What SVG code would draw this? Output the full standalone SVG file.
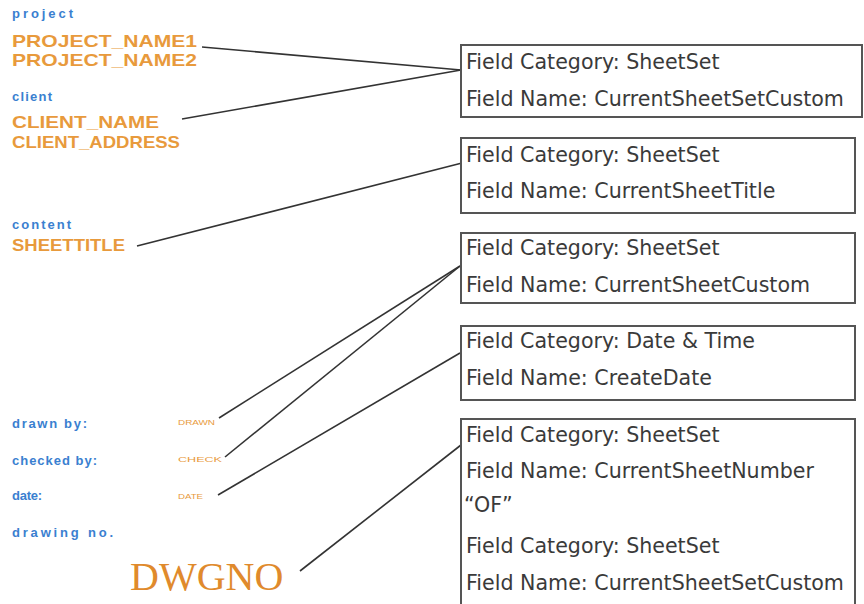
<svg xmlns="http://www.w3.org/2000/svg" width="864" height="604" viewBox="0 0 864 604">
<defs>
<style>
.bx{fill:#fff;stroke:#555;stroke-width:2}
.ft{font-family:"DejaVu Sans",Verdana,sans-serif;font-size:20.6px;fill:#3a3a3a}
.or{font-family:"Liberation Sans",Arial,sans-serif;font-weight:bold;font-size:17px;fill:#e89a3c}
.bl{font-family:"Liberation Sans",Arial,sans-serif;font-weight:bold;font-size:13px;fill:#3a80d0}
.sm{font-family:"Liberation Sans",Arial,sans-serif;font-size:8px;fill:#e89a3c}
.cn{stroke:#333;stroke-width:1.6;fill:none}
</style>
</defs>
<rect width="864" height="604" fill="#fff"/>
<g id="connectors">
<line class="cn" x1="202" y1="47" x2="461" y2="70"/>
<line class="cn" x1="182" y1="119" x2="461" y2="70"/>
<line class="cn" x1="137" y1="246" x2="462" y2="163"/>
<line class="cn" x1="219" y1="418" x2="460" y2="266"/>
<line class="cn" x1="225" y1="457" x2="460" y2="266"/>
<line class="cn" x1="218" y1="495" x2="460" y2="353"/>
<line class="cn" x1="300" y1="571" x2="461" y2="445"/>
</g>
<g id="src-project">
<text class="bl" x="12" y="18" textLength="61" lengthAdjust="spacing">project</text>
<text class="or" x="12" y="47" textLength="185" lengthAdjust="spacingAndGlyphs">PROJECT_NAME1</text>
<text class="or" x="12" y="66" textLength="185" lengthAdjust="spacingAndGlyphs">PROJECT_NAME2</text>
</g>
<g id="src-client">
<text class="bl" x="12" y="101" textLength="40" lengthAdjust="spacing">client</text>
<text class="or" x="12" y="128" textLength="147" lengthAdjust="spacingAndGlyphs">CLIENT_NAME</text>
<text class="or" x="12" y="148" textLength="168" lengthAdjust="spacingAndGlyphs">CLIENT_ADDRESS</text>
</g>
<g id="src-content">
<text class="bl" x="12" y="229" textLength="59" lengthAdjust="spacing">content</text>
<text class="or" x="12" y="251" textLength="113" lengthAdjust="spacingAndGlyphs">SHEETTITLE</text>
</g>
<g id="src-drawn">
<text class="bl" x="12" y="428" textLength="75" lengthAdjust="spacing">drawn  by:</text>
<text class="sm" x="178" y="425" textLength="37" lengthAdjust="spacingAndGlyphs">DRAWN</text>
</g>
<g id="src-checked">
<text class="bl" x="12" y="465" textLength="85" lengthAdjust="spacing">checked  by:</text>
<text class="sm" x="178" y="462" textLength="44" lengthAdjust="spacingAndGlyphs">CHECK</text>
</g>
<g id="src-date">
<text class="bl" x="12" y="500" textLength="30" lengthAdjust="spacing">date:</text>
<text class="sm" x="178" y="499" textLength="25" lengthAdjust="spacingAndGlyphs">DATE</text>
</g>
<g id="src-dwgno">
<text class="bl" x="12" y="537" textLength="101" lengthAdjust="spacing">drawing  no.</text>
<text x="130" y="590" font-family="'Liberation Serif','Times New Roman',serif" font-size="40" fill="#e08a2c">DWGNO</text>
</g>
<g id="box1">
<rect class="bx" x="461" y="45" width="401" height="72"/>
<text class="ft" x="466" y="69">Field Category: SheetSet</text>
<text class="ft" x="466" y="106">Field Name: CurrentSheetSetCustom</text>
</g>
<g id="box2">
<rect class="bx" x="461" y="138" width="394" height="75"/>
<text class="ft" x="466" y="162">Field Category: SheetSet</text>
<text class="ft" x="466" y="198">Field Name: CurrentSheetTitle</text>
</g>
<g id="box3">
<rect class="bx" x="461" y="233" width="394" height="70"/>
<text class="ft" x="466" y="255">Field Category: SheetSet</text>
<text class="ft" x="466" y="292">Field Name: CurrentSheetCustom</text>
</g>
<g id="box4">
<rect class="bx" x="461" y="326" width="394" height="74"/>
<text class="ft" x="466" y="348">Field Category: Date &amp; Time</text>
<text class="ft" x="466" y="385">Field Name: CreateDate</text>
</g>
<g id="box5">
<rect class="bx" x="461" y="419" width="394" height="200"/>
<text class="ft" x="466" y="442">Field Category: SheetSet</text>
<text class="ft" x="466" y="478">Field Name: CurrentSheetNumber</text>
<text class="ft" x="464" y="512">“OF”</text>
<text class="ft" x="466" y="553">Field Category: SheetSet</text>
<text class="ft" x="466" y="590">Field Name: CurrentSheetSetCustom</text>
</g>
</svg>
